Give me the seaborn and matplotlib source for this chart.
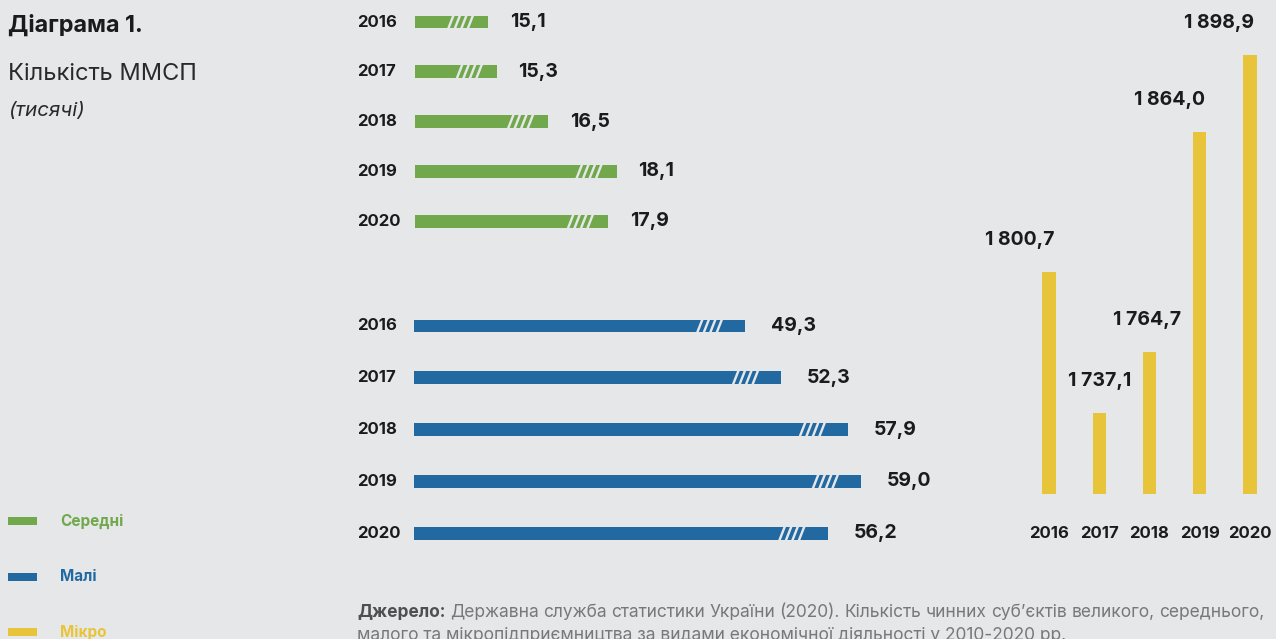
import matplotlib
matplotlib.use("Agg")
import matplotlib.pyplot as plt
from matplotlib import transforms
from matplotlib.patches import Polygon, Rectangle
import pandas as pd
import seaborn as sns

# ---- data (thousands of enterprises) ----
years = ["2016", "2017", "2018", "2019", "2020"]
medium = [15.1, 15.3, 16.5, 18.1, 17.9]
small = [49.3, 52.3, 57.9, 59.0, 56.2]
micro = [1800.7, 1737.1, 1764.7, 1864.0, 1898.9]
legend_labels = ["Середні", "Малі", "Мікро"]

title = "Діаграма 1."
subtitle = "Кількість ММСП"
units = "(тисячі)"
source_head = "Джерело:"
source_line1 = ("Державна служба статистики України (2020). Кількість чинних суб’єктів "
                "великого, середнього,")
source_line2 = "малого та мікропідприємництва за видами економічної діяльності у 2010-2020 рр."

# ---- style ----
BG = "#e6e7e9"
GREEN = "#70a84b"
BLUE = "#2369a1"
YELLOW = "#e8c43a"
DARK = "#1b1b1b"
GREY = "#77787b"
FONT = ["Inter", "DejaVu Sans"]

sns.set_theme(style="white")
plt.rcParams["font.family"] = FONT

W, H = 1276, 639
fig = plt.figure(figsize=(W / 100, H / 100), dpi=100, facecolor=BG)

# full-figure layer in pixel units for free text and legend
lay = fig.add_axes([0, 0, 1, 1])
lay.set_xlim(0, W)
lay.set_ylim(H, 0)
lay.axis("off")


def px_axes(left, top, right, bottom):
    ax = fig.add_axes([left / W, 1 - bottom / H, (right - left) / W, (bottom - top) / H])
    ax.set_facecolor("none")
    return ax


def fmt(v):
    return f"{v:,.1f}".replace(",", " ").replace(".", ",")


def add_breaks(ax, values, gap_px, bar_px=13.0):
    """White slashes marking the broken value axis near each bar end."""
    inv = ax.transData.inverted()
    for i, v in enumerate(values):
        xe, yc = ax.transData.transform((v, i))
        yb, yt = yc - bar_px / 2 - 0.5, yc + bar_px / 2 + 0.5
        for k in range(4):
            tr = xe - gap_px - k * 6.5
            tl = tr - 2.6
            br = tr - 5.5
            bl = br - 2.6
            pts = inv.transform([(bl, yb), (br, yb), (tr, yt), (tl, yt)])
            ax.add_patch(Polygon(pts, closed=True, facecolor=BG, edgecolor="none",
                                 zorder=5, clip_on=False))


def year_labels_left(ax):
    tr = transforms.blended_transform_factory(fig.transFigure, ax.transData)
    for i, y in enumerate(years):
        ax.text(357 / W, i, y, transform=tr, ha="left", va="center",
                fontsize=12, fontweight="bold", color=DARK)


# ---- medium enterprises (green) ----
ax_m = px_axes(415, 0, 845, 246)
df_m = pd.DataFrame({"year": years, "value": medium})
sns.barplot(data=df_m, x="value", y="year", orient="h", color=GREEN, saturation=1,
            width=0.26, linewidth=0, ax=ax_m)
ax_m.set_xlim(13.385, 13.385 + 430 / 42.82)
ax_m.set_ylim(4.5, -0.442)
ax_m.set_axis_off()
year_labels_left(ax_m)
for i, v in enumerate(medium):
    ax_m.annotate(fmt(v), (v, i), xytext=(15.5, 0), textcoords="offset points",
                  ha="left", va="center", fontsize=14, fontweight="bold", color=DARK,
                  annotation_clip=False)

# ---- small enterprises (blue) ----
ax_s = px_axes(414, 300, 1000, 560)
df_s = pd.DataFrame({"year": years, "value": small})
sns.barplot(data=df_s, x="value", y="year", orient="h", color=BLUE, saturation=1,
            width=0.25, linewidth=0, ax=ax_s)
ax_s.set_xlim(21.56, 21.56 + 586 / 11.946)
ax_s.set_ylim(4.52, -0.502)
ax_s.set_axis_off()
year_labels_left(ax_s)
for i, v in enumerate(small):
    ax_s.annotate(fmt(v), (v, i), xytext=(18.5, 0), textcoords="offset points",
                  ha="left", va="center", fontsize=14, fontweight="bold", color=DARK,
                  annotation_clip=False)

# ---- micro enterprises (yellow) ----
ax_u = px_axes(1020, 0, 1276, 494)
df_u = pd.DataFrame({"year": years, "value": micro})
sns.barplot(data=df_u, x="year", y="value", color=YELLOW, saturation=1,
            width=0.26, linewidth=0, ax=ax_u)
ax_u.set_xlim(-0.577, 4.517)
ax_u.set_ylim(1700.6, 1700.6 + 494 / 2.2146)
ax_u.set_axis_off()
label_shift = [-21, 0, -2, -22, -22]
for i, v in enumerate(micro):
    ax_u.annotate(fmt(v), (i, v), xytext=(label_shift[i], 23), textcoords="offset points",
                  ha="center", va="center", fontsize=14, fontweight="bold", color=DARK,
                  annotation_clip=False)
tr_u = transforms.blended_transform_factory(ax_u.transData, lay.transData)
for i, y in enumerate(years):
    ax_u.text(i, 533, y, transform=tr_u, ha="center", va="center",
              fontsize=12, fontweight="bold", color=DARK)

add_breaks(ax_m, medium, 14)
add_breaks(ax_s, small, 22)

# ---- title block ----
lay.text(8, 32, title, ha="left", va="baseline", fontsize=16.8, fontweight="bold", color=DARK)
lay.text(8, 80, subtitle, ha="left", va="baseline", fontsize=17, fontweight="normal",
         color="#2a2a2a")
lay.text(8, 116, units, ha="left", va="baseline", fontsize=14.8, fontstyle="italic",
         color="#2a2a2a")

# ---- legend ----
for k, (lab, col) in enumerate(zip(legend_labels, [GREEN, BLUE, YELLOW])):
    yc = 521 + k * 55.5
    lay.add_patch(Rectangle((8, yc - 4), 29, 8, facecolor=col, edgecolor="none"))
    lay.text(60, yc, lab, ha="left", va="center", fontsize=11, fontweight="bold", color=col)

# ---- source note (first line justified between x=357 and x=1264) ----
src_size = 12.5
renderer = fig.canvas.get_renderer()
words = [(source_head, "bold", "#4e4f52")] + [(w, "normal", GREY) for w in source_line1.split()]
texts = []
for w, weight, col in words:
    t = lay.text(0, 617, w, ha="left", va="baseline", fontsize=src_size,
                 fontweight=weight, color=col)
    texts.append(t)
widths = [t.get_window_extent(renderer).width for t in texts]
gap = (1264 - 357 - sum(widths)) / (len(texts) - 1)
x = 357
for t, w in zip(texts, widths):
    t.set_x(x)
    x += w + gap
lay.text(357, 640, source_line2, ha="left", va="baseline", fontsize=src_size, color=GREY)

fig.savefig("out.png", dpi=100, facecolor=BG)
